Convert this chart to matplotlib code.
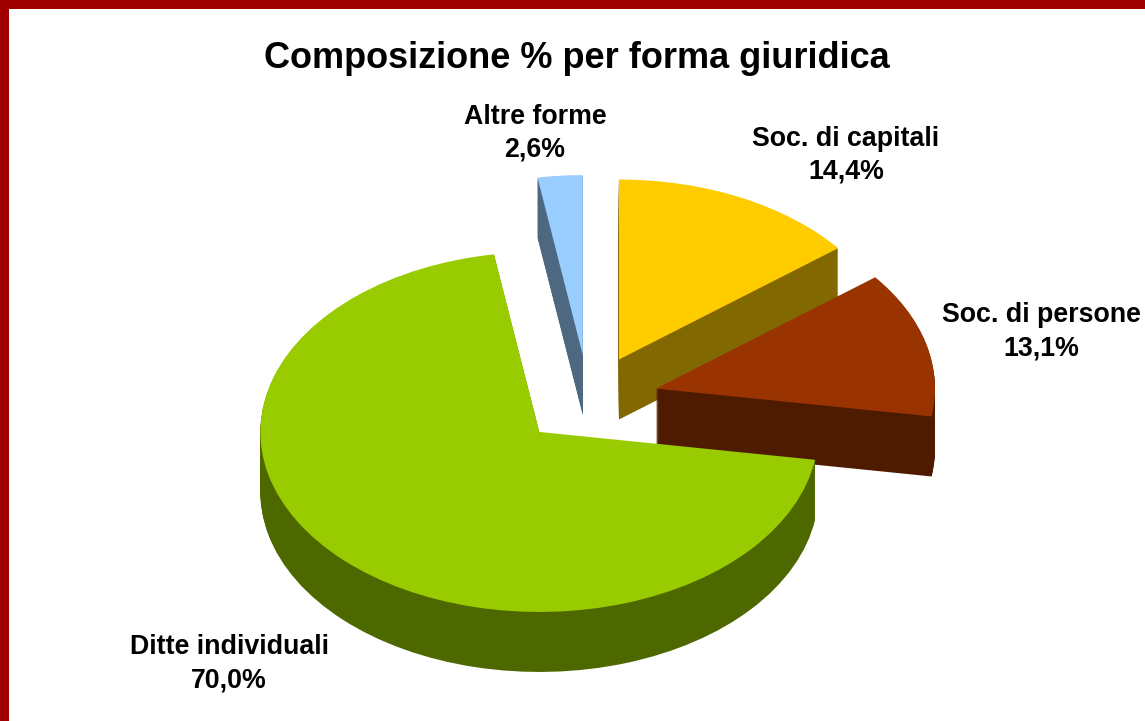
import matplotlib
matplotlib.use('Agg')
import matplotlib.pyplot as plt
from matplotlib.patches import Rectangle

names = ['Soc. di capitali', 'Soc. di persone', 'Ditte individuali', 'Altre forme']
values = [14.4, 13.1, 70.0, 2.6]
top_colors = ['#FFCC00', '#993300', '#99CC00', '#99CCFF']
side_colors = ['#826800', '#4E1A00', '#4E6800', '#4E6882']

W, H = 1145, 721
CX, CY = 588.5, 400
RX, RY = 279, 180
DEPTH = 60

plt.rcParams['font.family'] = ['Liberation Sans', 'DejaVu Sans']
fig = plt.figure(figsize=(W / 100, H / 100), dpi=100, facecolor='white')
ax = fig.add_axes([0, 0, 1, 1])

explode = [0.25] * len(values)
for d in range(DEPTH, -1, -1):
    cols = top_colors if d == 0 else side_colors
    wedges, _ = ax.pie(values, explode=explode, colors=cols, startangle=90,
                       counterclock=False, center=(0, -d / RY), normalize=True,
                       wedgeprops={'linewidth': 0})
    # back slices first, green one last
    for w, z in zip(wedges, [2, 3, 4, 1]):
        w.set_zorder(z)

ax.set_aspect('auto')
ax.set_xlim(-CX / RX, (W - CX) / RX)
ax.set_ylim((CY - H) / RY, CY / RY)
ax.axis('off')

fig.add_artist(Rectangle((0, 1 - 9 / H), 1, 9 / H, transform=fig.transFigure, color='#A00000', lw=0))
fig.add_artist(Rectangle((0, 0), 9 / W, 1, transform=fig.transFigure, color='#A00000', lw=0))

fig.text(577 / W, 1 - 58 / H, 'Composizione % per forma giuridica', fontsize=26,
         fontweight='bold', ha='center', va='center')

label_pos = [(846, 155), (1041, 332), (229, 664), (535, 133)]
for name, val, (x, y) in zip(names, values, label_pos):
    txt = name + '\n' + f'{val:.1f}'.replace('.', ',') + '%'
    fig.text(x / W, 1 - y / H, txt, fontsize=19.3, fontweight='bold', ha='center',
             va='center', linespacing=1.35)

fig.savefig('out.png', dpi=100)
